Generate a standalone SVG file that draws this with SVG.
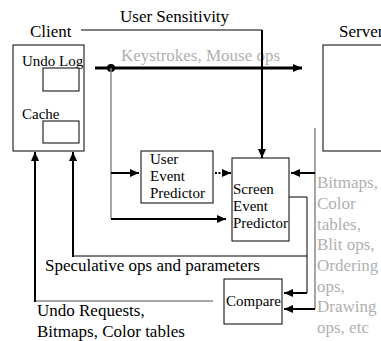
<svg xmlns="http://www.w3.org/2000/svg" width="381" height="341" viewBox="0 0 381 341">
<defs>
<marker id="ah" markerUnits="userSpaceOnUse" markerWidth="10" markerHeight="8" refX="9" refY="4" orient="auto">
<path d="M0,0 L9,4 L0,8 Z" fill="#000"/>
</marker>
<style>
text{font-family:"Liberation Serif","Times New Roman",serif;fill:#000}
.big{font-size:17px}
.sm{font-size:15px}
text.gray{fill:#b0b0b0}
.box{fill:#fff;stroke:#000;stroke-width:1}
.thin{fill:none;stroke:#000;stroke-width:1}
.thick{fill:none;stroke:#000;stroke-width:2}
.gline{fill:none;stroke:#888;stroke-width:1.5}
</style>
</defs>
<rect width="381" height="341" fill="#fff"/>
<g id="labels">
<text class="big" x="120" y="22">User Sensitivity</text>
<text class="big" x="30" y="37">Client</text>
<text class="big" x="339" y="37">Server</text>
<text class="big gray" x="121" y="61">Keystrokes, Mouse ops</text>
<text class="big" x="45" y="271">Speculative ops and parameters</text>
<text class="big" x="37" y="316">Undo Requests,</text>
<text class="big" x="37" y="337">Bitmaps, Color tables</text>
<text class="big gray" x="317" y="188">Bitmaps,</text>
<text class="big gray" x="317" y="209">Color</text>
<text class="big gray" x="317" y="230">tables,</text>
<text class="big gray" x="317" y="250">Blit ops,</text>
<text class="big gray" x="317" y="271">Ordering</text>
<text class="big gray" x="317" y="292">ops,</text>
<text class="big gray" x="317" y="312">Drawing</text>
<text class="big gray" x="317" y="333">ops, etc</text>
</g>
<g id="client">
<rect class="box" x="13" y="45" width="71" height="106"/>
<text class="sm" x="22" y="66">Undo Log</text>
<rect class="box" x="43" y="68" width="36" height="23"/>
<text class="sm" x="22" y="119">Cache</text>
<rect class="box" x="43" y="121" width="36" height="22"/>
</g>
<g id="server">
<rect class="box" x="323" y="45" width="70" height="106"/>
</g>
<g id="user-event-predictor">
<rect class="box" x="141" y="151" width="72" height="52"/>
<text class="sm" x="150" y="164">User</text>
<text class="sm" x="150" y="181">Event</text>
<text class="sm" x="150" y="198">Predictor</text>
</g>
<g id="screen-event-predictor">
<rect class="box" x="232" y="158" width="57" height="83"/>
<text class="sm" x="233" y="194">Screen</text>
<text class="sm" x="233" y="211">Event</text>
<text class="sm" x="233" y="228">Predictor</text>
</g>
<g id="compare">
<rect class="box" x="224" y="279" width="58" height="45"/>
<text class="sm" x="226" y="306">Compare</text>
</g>
<g id="connectors">
<path class="thin" d="M81,30 H262"/>
<path class="thick" d="M262,30 V158" marker-end="url(#ah)"/>
<path d="M95,68 H302" fill="none" stroke="#000" stroke-width="3" marker-end="url(#ah)"/>
<circle cx="111" cy="68" r="4" fill="#000"/>
<path class="gline" d="M111,68 V219"/>
<path class="thick" d="M111,173 H139" marker-end="url(#ah)"/>
<path class="thick" d="M111,219 H226" marker-end="url(#ah)"/>
<path d="M215,173 H231" fill="none" stroke="#000" stroke-width="2" stroke-dasharray="2,1.5" marker-end="url(#ah)"/>
<path class="gline" d="M315,128 V309"/>
<path class="thick" d="M315,173 H291" marker-end="url(#ah)"/>
<path class="thick" d="M315,309 H284" marker-end="url(#ah)"/>
<path class="thin" d="M289,197 H307 V293"/>
<path class="thick" d="M307,293 H284" marker-end="url(#ah)"/>
<path class="thin" d="M307,256 H73"/>
<path class="thick" d="M73,257 V152" marker-end="url(#ah)"/>
<path class="gline" d="M213,301 H35"/>
<path class="thick" d="M35,302 V152" marker-end="url(#ah)"/>
</g>
</svg>
